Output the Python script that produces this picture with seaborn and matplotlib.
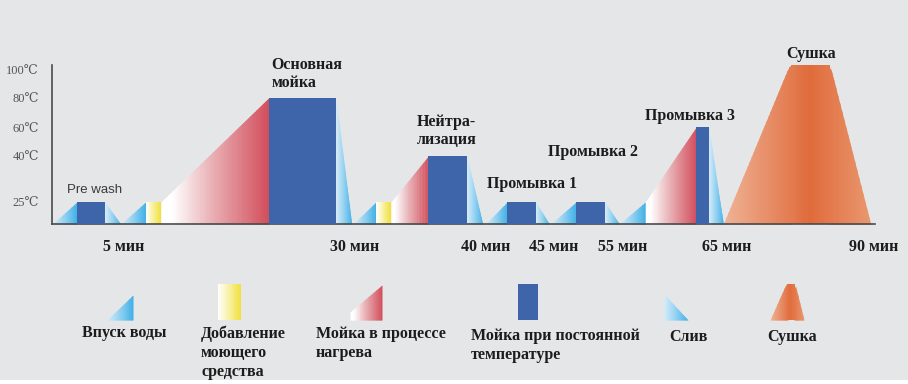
import numpy as np
import matplotlib
matplotlib.use("Agg")
import matplotlib.pyplot as plt
import matplotlib.transforms as mtransforms
from matplotlib.colors import LinearSegmentedColormap
import seaborn as sns

# ---------------- data ----------------
time_ticks = [5, 30, 40, 45, 55, 65, 90]
time_tick_labels = ["5 мин", "30 мин", "40 мин", "45 мин", "55 мин", "65 мин", "90 мин"]
temp_ticks = [25, 40, 60, 80, 100]
temp_tick_labels = ["25℃", "40℃", "60℃", "80℃", "100℃"]

# water inlet (rising triangles)
inlet_start = [0.0, 5.0, 30.1, 40.2, 45.0, 55.0]
inlet_end = [1.8, 7.7, 31.85, 41.8, 48.7, 57.5]
inlet_temp = [25, 25, 25, 25, 25, 25]

# detergent dosing
detergent_start = [7.7, 31.85]
detergent_end = [9.35, 33.0]
detergent_temp = [25, 25]

# washing while heating
heating_start = [9.35, 33.0, 57.5]
heating_end = [21.0, 35.85, 62.4]
heating_temp_from = [25, 25, 25]
heating_temp_to = [80, 40, 60]

# washing at constant temperature
wash_start = [1.8, 21.0, 35.85, 41.8, 48.7, 62.4]
wash_end = [3.85, 28.3, 38.8, 43.9, 52.9, 63.6]
wash_temp = [25, 80, 40, 25, 25, 60]
wash_names = ["Pre wash", "Основная\nмойка", "Нейтра-\nлизация",
              "Промывка 1", "Промывка 2", "Промывка 3"]

# drain (falling triangles)
drain_start = [3.85, 28.3, 38.8, 43.9, 52.9, 63.6]
drain_end = [5.0, 30.0, 40.0, 44.9, 55.0, 65.0]
drain_temp = [25, 80, 40, 25, 25, 60]

# drying
drying_time = [65.0, 76.2, 83.1, 90.0]
drying_temp = [0, 103, 103, 0]
drying_name = "Сушка"

legend_labels = ["Впуск воды", "Добавление\nмоющего\nсредства",
                 "Мойка в процессе\nнагрева", "Мойка при постоянной\nтемпературе",
                 "Слив", "Сушка"]

# ---------------- style ----------------
sns.set_theme(style="white")
BG = "#e5e6e8"
plt.rcParams["font.family"] = ["Liberation Serif", "DejaVu Serif", "DejaVu Sans"]
SERIF = ["Liberation Serif", "DejaVu Serif", "DejaVu Sans"]
TXT = "#1c1c1c"
BLUE = "#3e64aa"
water_cmap = LinearSegmentedColormap.from_list("water", ["#d3ecf9", "#8fd0f1", "#40b0e6"])
det_cmap = LinearSegmentedColormap.from_list("det", ["#ffffff", "#f7f0a0", "#f0e03a"])
heat_cmap = LinearSegmentedColormap.from_list("heat", [(0, "#ffffff"), (0.1, "#ffffff"),
                                                       (0.45, "#eab4b8"), (1, "#d24e5c")])
dry_cmap = LinearSegmentedColormap.from_list("dry", [(0, "#efb396"), (0.59, "#e06b3b"),
                                                     (1, "#e9986f")])

# non-uniform axis scales (as drawn in the original diagram)
X_ANCH = [0, 5, 30, 40, 45, 55, 65, 90]
X_POS = [0, 68.4, 299.4, 430.4, 498.4, 567.0, 671.0, 818.4]
Y_ANCH = [0, 25, 40, 60, 80, 100]
Y_POS = [0, 22, 68, 97, 126, 154.5]


def piecewise(a, b):
    a = np.asarray(a, float)
    b = np.asarray(b, float)
    lo = (b[1] - b[0]) / (a[1] - a[0])
    hi = (b[-1] - b[-2]) / (a[-1] - a[-2])

    def f(v):
        v = np.asarray(v, float)
        out = np.interp(v, a, b)
        out = np.where(v < a[0], b[0] + (v - a[0]) * lo, out)
        out = np.where(v > a[-1], b[-1] + (v - a[-1]) * hi, out)
        return out
    return f


xfwd, xinv = piecewise(X_ANCH, X_POS), piecewise(X_POS, X_ANCH)
yfwd, yinv = piecewise(Y_ANCH, Y_POS), piecewise(Y_POS, Y_ANCH)

W, H = 908, 384
fig = plt.figure(figsize=(W / 100, H / 100), dpi=100)
fig.patch.set_facecolor(BG)

# overlay axes in pixel units for the legend area
lax = fig.add_axes([0, 0, 1, 1])
lax.set_xlim(0, W)
lax.set_ylim(H, 0)
lax.axis("off")
lax.patch.set_alpha(0)

XMAX, YMAX = 90.7, 103.2
x0px, base_px = 52.3, 224
wpx = float(xfwd(XMAX))
hpx = float(yfwd(YMAX))
ax = fig.add_axes([x0px / W, (H - base_px) / H, wpx / W, hpx / H])
ax.patch.set_alpha(0)
ax.set_xscale("function", functions=(xfwd, xinv))
ax.set_yscale("function", functions=(yfwd, yinv))
ax.set_xlim(0, XMAX)
ax.set_ylim(0, YMAX)


def straight(xp, yp, data=True):
    xp = np.asarray(xp, float)
    yp = np.asarray(yp, float)
    if not data:
        return lambda x: np.interp(np.asarray(x, float), xp, yp)
    Xp, Yp = xfwd(xp), yfwd(yp)
    return lambda x: yinv(np.interp(xfwd(x), Xp, Yp))


def gradient_fill(a, x0, x1, lower, upper, cmap, n=40, z=2):
    xs = np.linspace(x0, x1, n + 1)
    w = xs[1] - xs[0]
    for i in range(n):
        xa = xs[i]
        xb = min(xs[i + 1] + 0.6 * w, x1)
        seg = np.array([xa, xb])
        a.fill_between(seg, lower(seg), upper(seg), color=cmap((i + 0.5) / n),
                       lw=0, zorder=z, clip_on=False)


zero = lambda x: np.zeros_like(np.asarray(x, float))

for s, e, t in zip(inlet_start, inlet_end, inlet_temp):
    gradient_fill(ax, s, e, zero, straight([s, e], [0, t]), water_cmap, 16)
for s, e, t in zip(drain_start, drain_end, drain_temp):
    gradient_fill(ax, s, e, zero, straight([s, e], [t, 0]), water_cmap, 16)
for s, e, t in zip(detergent_start, detergent_end, detergent_temp):
    gradient_fill(ax, s, e, zero, straight([s, e], [t, t]), det_cmap, 16)
for s, e, t0, t1 in zip(heating_start, heating_end, heating_temp_from, heating_temp_to):
    gradient_fill(ax, s, e, zero, straight([s, e], [t0, t1]), heat_cmap, 50)
gradient_fill(ax, drying_time[0], drying_time[-1], zero,
              straight(drying_time, drying_temp), dry_cmap, 70)
ax.bar(wash_start, wash_temp, width=np.subtract(wash_end, wash_start),
       align="edge", color=BLUE, lw=0, zorder=3)

# stage labels (offsets refer to the baseline of the last text line)
label_off = [(-10, 9), (3, 10.7), (-12, 11.7), (-20, 14.5), (-28, 46), (-51, 6.5)]
for i, (name, s, t) in enumerate(zip(wash_names, wash_start, wash_temp)):
    if i == 0:
        kw = dict(family=["Liberation Sans", "DejaVu Sans"], fontsize=9.5, color="#3a3a3a")
    else:
        kw = dict(family=SERIF, fontsize=11.5, fontweight="bold", color=TXT)
    ax.annotate(name, xy=(s, t), xytext=label_off[i], textcoords="offset pixels",
                ha="left", va="baseline", linespacing=1.2, annotation_clip=False, **kw)
ax.annotate(drying_name, xy=((drying_time[1] + drying_time[2]) / 2, drying_temp[1]),
            xytext=(1, 7.5), textcoords="offset pixels", ha="center", va="baseline",
            family=SERIF, fontsize=11.5, fontweight="bold", color=TXT, annotation_clip=False)

# axes styling
sns.despine(ax=ax, top=True, right=True)
for sp in ("left", "bottom"):
    ax.spines[sp].set_color("#4a4a4a")
    ax.spines[sp].set_linewidth(1.2)
ax.set_xticks(time_ticks)
ax.set_xticklabels(time_tick_labels, family=SERIF, fontsize=11.5, fontweight="bold", color=TXT)
ax.set_yticks(temp_ticks)
ax.set_yticklabels(temp_tick_labels, family=SERIF, fontsize=9, color="#555555")
ax.xaxis.set_minor_locator(matplotlib.ticker.NullLocator())
ax.yaxis.set_minor_locator(matplotlib.ticker.NullLocator())
ax.tick_params(axis="x", direction="out", length=7, width=1.1, color="#4a4a4a", pad=3.5)
ax.tick_params(axis="y", direction="out", length=6.5, width=1.1, color="#4a4a4a", pad=3)
shift = mtransforms.ScaledTranslation(3 / 100, 0, fig.dpi_scale_trans)
for lbl in ax.get_xticklabels():
    lbl.set_transform(lbl.get_transform() + shift)

# ---------------- legend (pixel coordinates) ----------------
b = 320
icons = [
    ("tri", water_cmap, [107, 133], [b, 295]),
    ("poly", det_cmap, [218, 241], [284, 284]),
    ("poly", heat_cmap, [350, 382], [312, 285]),
    ("rect", None, [518, 538], [284, 284]),
    ("poly", water_cmap, [664, 688], [294, b]),
    ("dry", dry_cmap, [770, 786, 795, 804], [b, 284, 284, b]),
]
for kind, cm, xp, yp in icons:
    low = lambda x: np.full_like(np.asarray(x, float), b)
    if kind == "rect":
        lax.fill_between(xp, [b, b], yp, color=BLUE, lw=0)
    else:
        gradient_fill(lax, xp[0], xp[-1], low, straight(xp, yp, data=False), cm, 20)

# x position and baseline of the last line of each legend label
leg_x = [82, 201, 316, 471, 669, 767]
leg_y = [336.7, 376.5, 357.3, 359.3, 340.7, 340.7]
for lab, x, y in zip(legend_labels, leg_x, leg_y):
    lax.text(x, y, lab, ha="left", va="baseline", family=SERIF, fontsize=11.5,
             fontweight="bold", color=TXT, linespacing=1.25)

lax.fill_between([0, W], [380, 380], [H, H], color="white", lw=0)

fig.savefig("out.png", dpi=100, facecolor=BG)
